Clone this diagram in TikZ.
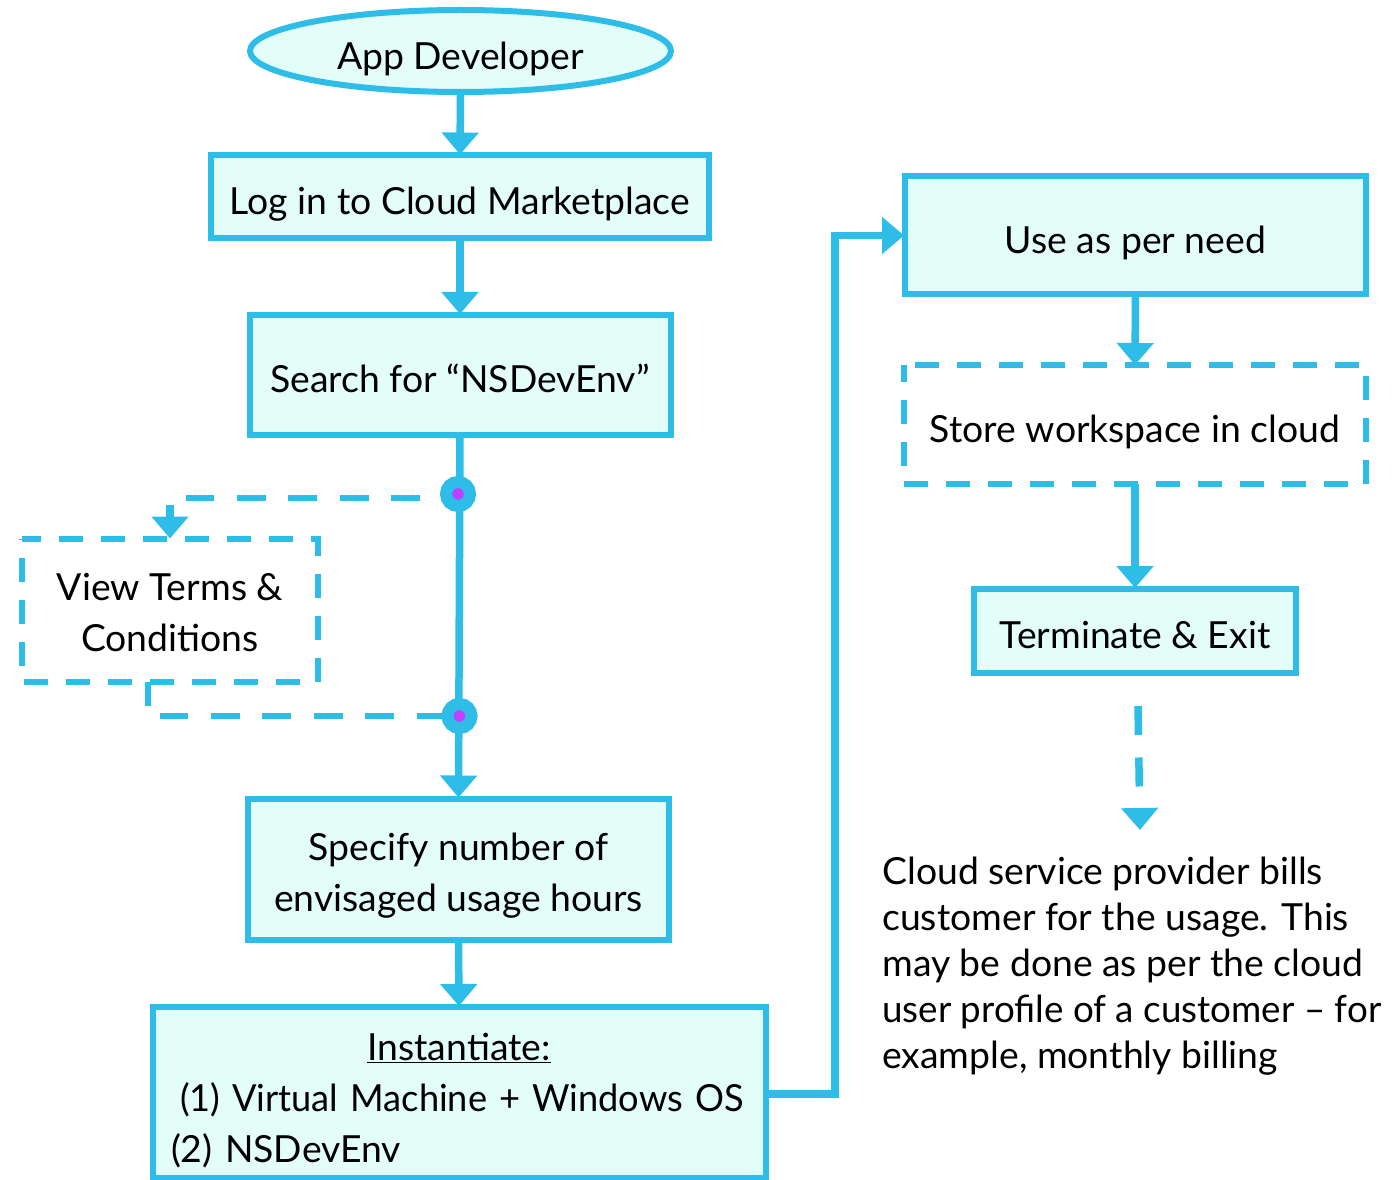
\documentclass[tikz,border=0pt]{standalone}
\usepackage{fontspec}
\usepackage{graphicx}
\setmainfont{Lato}
\usetikzlibrary{arrows.meta,shapes.geometric}
\definecolor{flow}{RGB}{46,189,230}
\definecolor{pale}{RGB}{227,253,249}
\definecolor{pin}{RGB}{191,64,255}
\newlength{\pxu}\setlength{\pxu}{0.75pt}
\newcommand{\lowr}[2]{\raisebox{-#1\pxu}[\height][\depth]{#2}}
\tikzset{
  x=0.75pt,y=-0.75pt,
  every node/.style={font=\fontsize{28pt}{38.25pt}\selectfont,text=black},
  solidbox/.style={rectangle,draw=flow,fill=pale,line width=6\pxu,inner sep=0pt,outer sep=1\pxu,align=center,anchor=center},
  openbox/.style={rectangle,inner sep=0pt,outer sep=0pt,align=center,anchor=center},
  dashborder/.style={draw=flow,line width=6\pxu,dash pattern=on 24\pxu off 18\pxu,line cap=butt},
  conn/.style={draw=flow,line width=7.5\pxu,-{Triangle[width=27pt,length=16.5pt]}},
  plainconn/.style={draw=flow,line width=7\pxu},
  dashconn/.style={draw=flow,line width=6.5\pxu,dash pattern=on 29\pxu off 22.5\pxu},
  junction/.style={circle,draw=flow,fill=pin,line width=12\pxu,minimum size=24\pxu,inner sep=0pt},
}
\begin{document}
\begin{tikzpicture}
\useasboundingbox (0,0) rectangle (1392,1180);
% nodes
\node[solidbox,ellipse,minimum width=421\pxu,minimum height=82\pxu] (app) at (460.5,51) {\lowr{8}{App Developer}};
\node[solidbox,minimum width=498\pxu,minimum height=83\pxu] (login) at (460,197) {\lowr{7}{Log in to Cloud Marketplace}};
\node[solidbox,minimum width=421\pxu,minimum height=120\pxu] (search) at (460,375) {\lowr{3}{Search for “NSDevEnv”}};
\node[openbox,minimum width=296\pxu,minimum height=143\pxu] (view) at (170,610) {\lowr{2.5}{View Terms \&}\\\lowr{2.5}{Conditions}};
\node[solidbox,minimum width=421\pxu,minimum height=141\pxu] (spec) at (458.5,869) {\lowr{6.5}{Specify number of}\\\lowr{6.5}{envisaged usage hours}};
\node[solidbox,minimum width=613\pxu,minimum height=171\pxu,text width=600\pxu,align=left] (inst) at (459,1092.5)
  {\makebox[\linewidth][c]{\lowr{8}{\underline{Instantiate:}}}\\\makebox[\linewidth][l]{\hspace*{21\pxu}\lowr{8}{\scalebox{0.97}[1]{(1) Virtual Machine + Windows OS}}}\\\makebox[\linewidth][l]{\hspace*{12\pxu}\lowr{8}{(2) NSDevEnv}}};
\node[solidbox,minimum width=461\pxu,minimum height=118\pxu] (use) at (1135.5,235.5) {\lowr{7}{Use as per need}};
\node[openbox,minimum width=462\pxu,minimum height=119\pxu] (store) at (1135,424.5) {\lowr{7}{Store workspace in cloud}};
\node[solidbox,minimum width=322\pxu,minimum height=84\pxu] (term) at (1135,631) {\lowr{4}{Terminate \& Exit}};
\node[anchor=north west,inner sep=0pt,align=left,font=\fontsize{28pt}{34.5pt}\selectfont] (bill) at (882,857)
  {Cloud service provider bills\\customer for the usage. This\\may be done as per the cloud\\\scalebox{0.985}[1]{user profile of a customer – for}\\example, monthly billing};
% free coordinates
\coordinate (elbowA) at (186,498);
\coordinate (stemA) at (170,505);
\coordinate (stemB) at (148,706);
\coordinate (elbowB) at (160,716);
\coordinate (elbowC) at (835,1094);
\coordinate (billFrom) at (1138,706);
\coordinate (billTo) at (1140,830);
% dashed borders (clockwise from the top left corner)
\draw[dashborder,dash phase=5\pxu] (view.north west) -- (view.north east) -- (view.south east) -- (view.south west) -- cycle;
\draw[dashborder,dash phase=31\pxu] (store.north west) -- (store.north east) -- (store.south east) -- (store.south west) -- cycle;
% connectors
\draw[conn] (app.south) -- (login.north);
\draw[conn] (login.south) -- (search.north);
\draw[conn] (search.south) -- (spec.north);
\draw[conn] (spec.south) -- (inst.north);
\draw[conn] (inst.east |- elbowC) -- (elbowC) -- (elbowC |- use.west) -- (use.west);
\draw[conn] (use.south) -- (store.north);
\draw[conn] (store.south) -- (term.north);
\node[junction] (dotA) at (458,494) {};
\node[junction] (dotB) at (459.5,716) {};
\draw[dashconn,dash phase=31.5\pxu] (dotA.west |- elbowA) -- (elbowA);
\draw[conn] (stemA) -- (view.north);
\draw[plainconn,line width=6.5\pxu] (stemB |- view.south) -- (stemB);
\draw[dashconn,dash phase=4\pxu] (dotB.west |- elbowB) -- (elbowB);
\draw[conn,dash pattern=on 29\pxu off 22.5\pxu] (billFrom) -- (billTo);
\end{tikzpicture}
\end{document}
